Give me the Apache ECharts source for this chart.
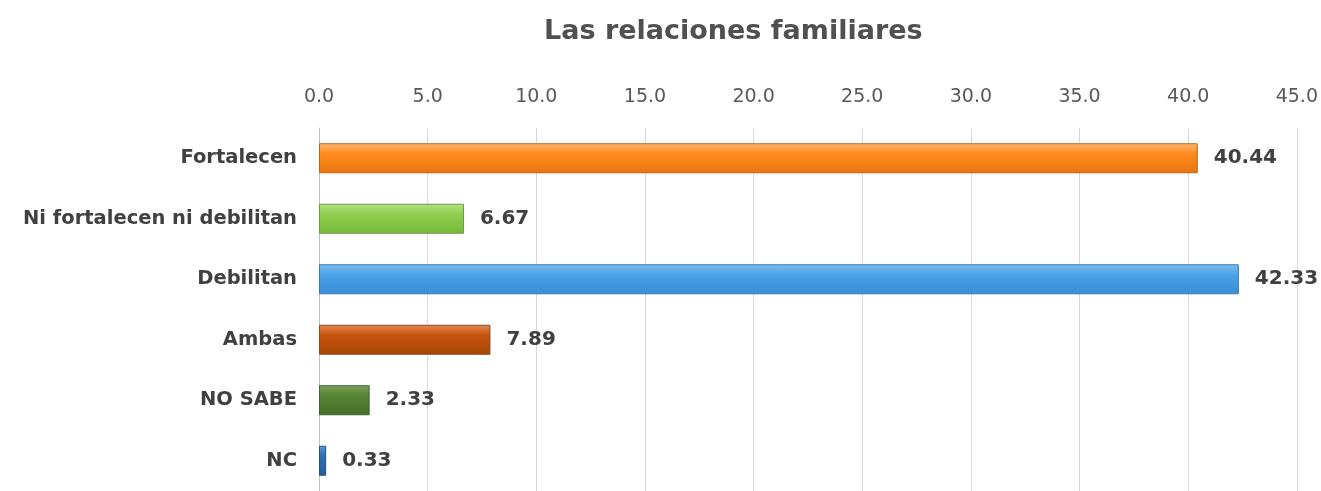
<!DOCTYPE html>
<html>
<head>
<meta charset="utf-8">
<script src="https://cdn.jsdelivr.net/npm/echarts@6/dist/echarts.min.js"></script>
<style>
  html, body { margin: 0; padding: 0; background: #fff; }
  #main { width: 1321px; height: 491px; }
</style>
</head>
<body>
<div id="main"></div>
<script>
// datos
const categories = ['Fortalecen', 'Ni fortalecen ni debilitan', 'Debilitan', 'Ambas', 'NO SABE', 'NC'];
const values = [40.44, 6.67, 42.33, 7.89, 2.33, 0.33];
const tickLabels = ['0.0', '5.0', '10.0', '15.0', '20.0', '25.0', '30.0', '35.0', '40.0', '45.0'];

// colores de cada barra: [arriba, medio, abajo, borde]
const palette = [
  ['#ffb873', '#ff8a1f', '#e8760e', '#b8661e'],
  ['#b6e283', '#8fce4e', '#7ab83a', '#6a9a44'],
  ['#7cc0f0', '#4aa2e6', '#3a8dd6', '#3c78ad'],
  ['#e58a55', '#c5540f', '#a84604', '#8a4a24'],
  ['#7aa35a', '#568434', '#456e28', '#3f6030'],
  ['#5b97d0', '#2e6fb0', '#245d98', '#24527e']
];

const FONT = 'DejaVu Sans';
const myChart = echarts.init(document.getElementById('main'));

const option = {
  animation: false,
  title: {
    text: 'Las relaciones familiares',
    left: 539,
    top: 13,
    textStyle: { fontFamily: FONT, fontSize: 27, fontWeight: 'bold', color: '#505050' }
  },
  grid: { left: 319, right: 24, top: 128, height: 366 },
  xAxis: {
    type: 'value',
    position: 'top',
    min: 0,
    max: 45,
    interval: 5,
    axisLine: { show: false },
    axisTick: { show: false },
    axisLabel: {
      margin: 21,
      color: '#595959',
      fontFamily: FONT,
      fontSize: 19,
      formatter: v => tickLabels[Math.round(v / 5)]
    },
    splitLine: { lineStyle: { color: '#d9d9d9', width: 1 } }
  },
  yAxis: {
    type: 'category',
    data: categories,
    inverse: true,
    axisLine: { show: true, lineStyle: { color: '#bfbfbf' } },
    axisTick: { show: false },
    axisLabel: {
      margin: 22,
      color: '#404040',
      fontFamily: FONT,
      fontSize: 19.5,
      fontWeight: 'bold'
    }
  },
  series: [{
    type: 'bar',
    barWidth: 30,
    data: values.map((v, i) => ({
      value: v,
      itemStyle: {
        color: new echarts.graphic.LinearGradient(0, 0, 0, 1, [
          { offset: 0, color: palette[i][0] },
          { offset: 0.35, color: palette[i][1] },
          { offset: 1, color: palette[i][2] }
        ]),
        borderColor: palette[i][3],
        borderWidth: 1
      }
    })),
    label: {
      show: true,
      position: 'right',
      distance: 16,
      formatter: p => p.value.toFixed(2),
      color: '#404040',
      fontFamily: FONT,
      fontSize: 20,
      fontWeight: 'bold'
    }
  }]
};

option && myChart.setOption(option);
</script>
</body>
</html>
